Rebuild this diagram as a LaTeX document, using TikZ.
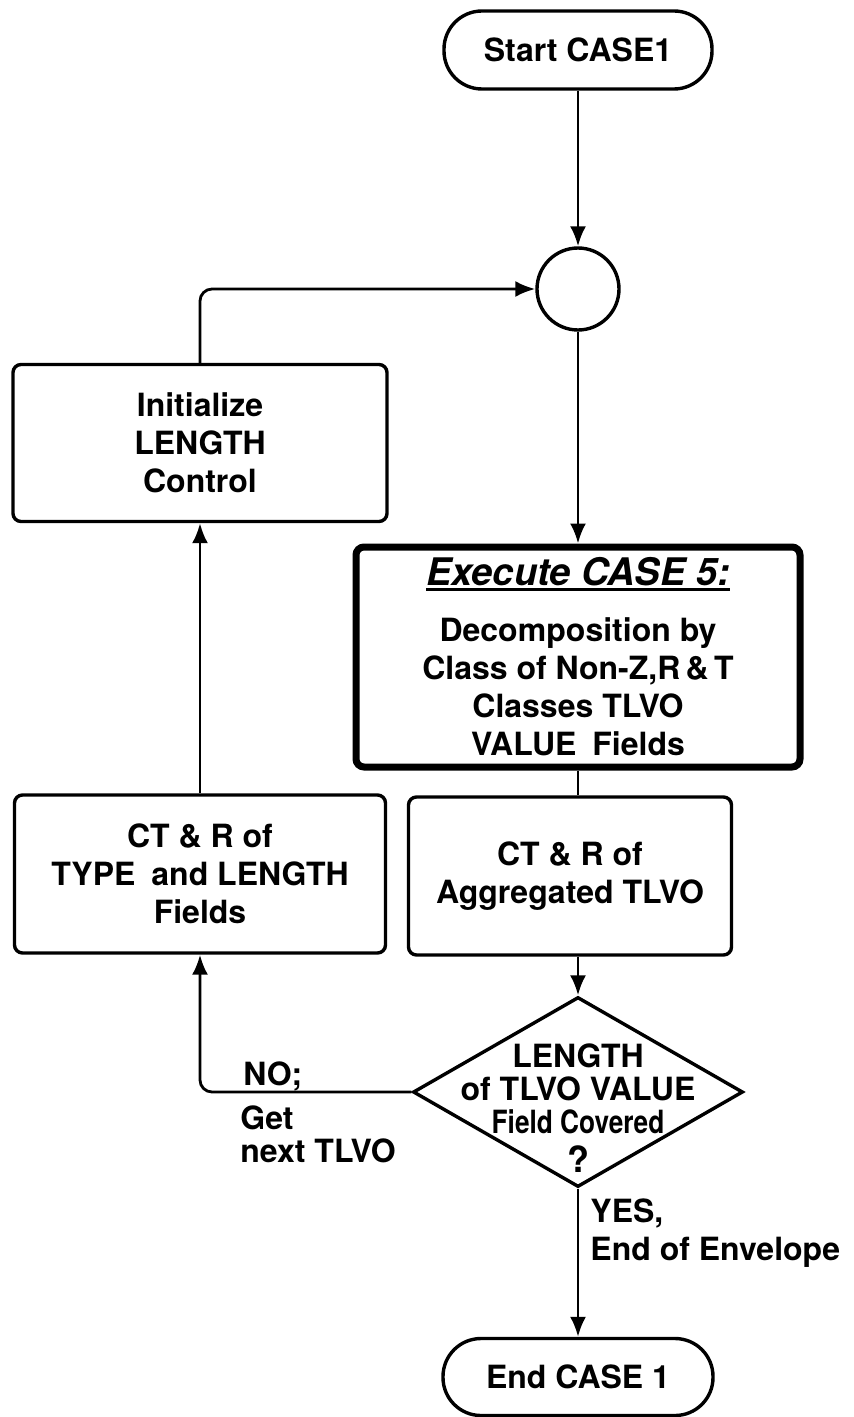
\documentclass[tikz,border=0pt]{standalone}
\usepackage{fontspec}
\setmainfont{TeX Gyre Heros}
\usepackage{tikz}
\usetikzlibrary{shapes.geometric,arrows.meta}
\definecolor{caseInk}{HTML}{000000}
\newcommand{\heavyul}[1]{\setbox0=\hbox{#1}\leavevmode\rlap{\rule[-2.75pt]{\wd0}{1.5pt}}\box0}

\begin{document}
\begin{tikzpicture}[
    x=0.5pt, y=-0.5pt,
    txt/.style={font=\bfseries\fontsize{16}{19}\selectfont, text=caseInk},
    box/.style={txt, draw=caseInk, line width=1.7pt, rounded corners=4pt,
                align=center, inner sep=2pt},
    terminal/.style={txt, draw=caseInk, line width=1.7pt, rounded corners=19pt,
                minimum width=134pt, minimum height=39pt},
    junction/.style={circle, draw=caseInk, line width=1.7pt, minimum size=41pt, inner sep=0pt},
    decision/.style={diamond, draw=caseInk, line width=1.7pt, minimum width=165pt,
                minimum height=95pt, inner sep=0pt},
    lbl/.style={txt, inner sep=0pt, align=left},
    flow/.style={-{Latex[length=10pt,width=8pt]}, line width=1.4pt, color=caseInk},
    link/.style={line width=1.4pt, color=caseInk}
]
    \useasboundingbox (0,0) rectangle (854,1417);

    % --- Main column ---
    \node[terminal] (start) at (578, 50) {Start CASE1};
    \node[junction] (junc) at (578, 289) {};
    \node[box, line width=3.5pt, minimum width=222pt, minimum height=110pt] (exec) at (578, 657)
        {{\fontsize{19}{22}\selectfont\heavyul{\textit{Execute CASE 5:}}}\\[9pt]
         Decomposition by\\Class of Non-Z,R\,\&\,T\\Classes TLVO\\VALUE\enspace Fields};
    \node[box, minimum width=161.5pt, minimum height=79pt] (ctR) at (570, 876)
        {CT \& R of\\Aggregated TLVO};
    \node[decision] (dec) at (578, 1092) {};
    \node[txt, align=center, inner sep=0pt, font=\bfseries\fontsize{16}{16.5}\selectfont]
        (decText) at ([yshift=-8pt]dec.center)
        {LENGTH\\of TLVO VALUE\\\scalebox{0.82}[1]{Field Covered}\\[3pt]{\fontsize{18}{16.5}\selectfont ?}};
    \node[terminal, minimum width=135pt, minimum height=38.5pt] (end) at (578, 1377) {End CASE 1};

    % --- Loop column ---
    \node[box, minimum width=187pt, minimum height=78.5pt] (init) at (200, 443)
        {Initialize\\LENGTH\\Control};
    \node[box, minimum width=185.5pt, minimum height=79pt] (ctL) at (200, 874)
        {CT \& R of\\TYPE\enspace and LENGTH\\Fields};

    % --- Labels ---
    \node[lbl, anchor=north west] (noLbl) at (243, 1061) {NO;};
    \node[lbl, anchor=north west, font=\bfseries\fontsize{16}{16.5}\selectfont] (getLbl) at (240, 1105)
        {Get\\next TLVO};
    \node[lbl, anchor=north west] (yesLbl) at (590, 1198) {YES,\\End of Envelope};

    % --- Connectors ---
    \draw[flow] (start) -- (junc);
    \draw[flow] (junc) -- (exec);
    \draw[link] (exec.south) -- (exec.south |- ctR.north);
    \draw[flow] (ctR.south -| dec.north) -- (dec.north);
    \draw[flow] (dec.south) -- (end.north);
    \draw[flow, rounded corners=6pt] (dec.west) -| (ctL.south);
    \draw[flow] (ctL.north) -- (init.south);
    \draw[flow, rounded corners=6pt] (init.north) |- (junc.west);
\end{tikzpicture}
\end{document}
